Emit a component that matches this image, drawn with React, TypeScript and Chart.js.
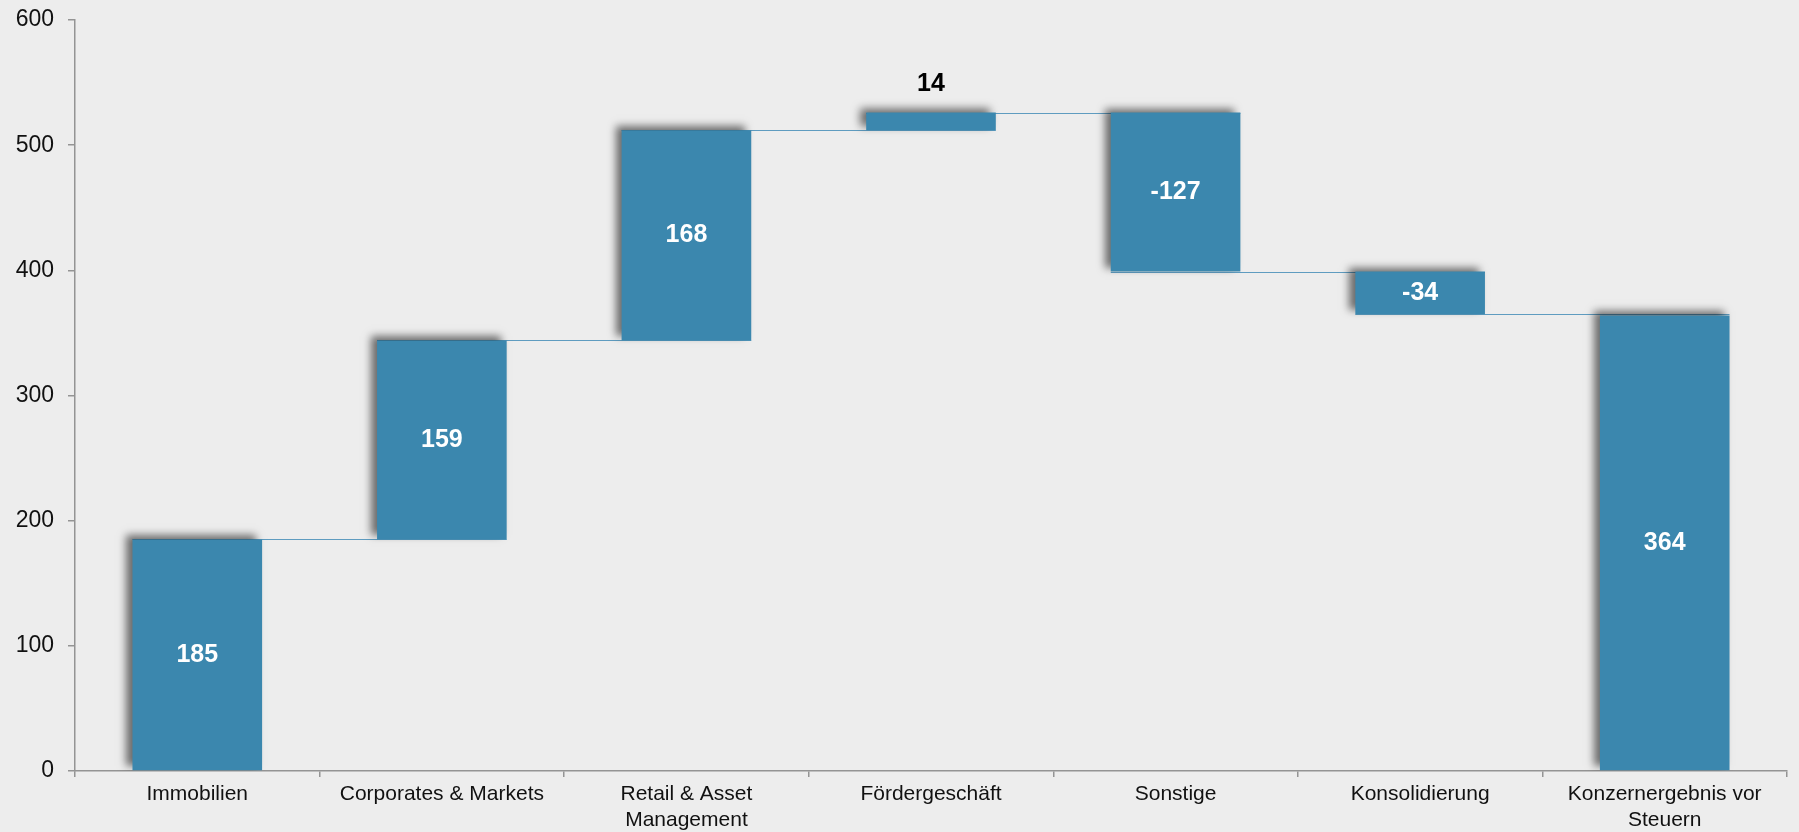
import React, { useEffect, useRef } from "react";
import { Chart, registerables } from "chart.js";

Chart.register(...registerables);

const categories: (string | string[])[] = [
  "Immobilien",
  "Corporates & Markets",
  ["Retail & Asset", "Management"],
  "Fördergeschäft",
  "Sonstige",
  "Konsolidierung",
  ["Konzernergebnis vor", "Steuern"],
];
const values = [185, 159, 168, 14, -127, -34, 364];
const isTotal = [false, false, false, false, false, false, true];
const labelInside = [true, true, true, false, true, true, true];
const yTicks = [0, 100, 200, 300, 400, 500, 600];

const BAR = "#3b87ae";
const LINE = "#5f9cc0";
const AXIS = "#949494";
const FONT = "'Liberation Sans', Arial, sans-serif";

function buildRanges(): [number, number][] {
  let run = 0;
  return values.map((v, i) => {
    if (isTotal[i]) return [0, v] as [number, number];
    const r: [number, number] = [run, run + v];
    run += v;
    return r;
  });
}

export default function App() {
  const ref = useRef<HTMLCanvasElement | null>(null);
  useEffect(() => {
    if (!ref.current) return;
    const ranges = buildRanges();

    const connectors = {
      id: "connectors",
      beforeDatasetsDraw(chart: any) {
        const meta = chart.getDatasetMeta(0);
        const y = chart.scales.y;
        const ctx = chart.ctx;
        ctx.save();
        ctx.strokeStyle = LINE;
        ctx.lineWidth = 1;
        for (let i = 0; i < ranges.length - 1; i++) {
          const a = meta.data[i] as any;
          const b = meta.data[i + 1] as any;
          const py = Math.round(y.getPixelForValue(ranges[i][1])) + 0.5;
          ctx.beginPath();
          ctx.moveTo(a.x - a.width / 2, py);
          ctx.lineTo(b.x + b.width / 2, py);
          ctx.stroke();
        }
        ctx.restore();
      },
    };

    const shadow = {
      id: "barShadow",
      beforeDatasetDraw(chart: any) {
        const ctx = chart.ctx;
        ctx.save();
        ctx.shadowColor = "rgba(0,0,0,0.55)";
        ctx.shadowBlur = 8;
        ctx.shadowOffsetX = -6;
        ctx.shadowOffsetY = -4;
      },
      afterDatasetDraw(chart: any) {
        chart.ctx.restore();
      },
    };

    const dataLabels = {
      id: "dataLabels",
      afterDatasetsDraw(chart: any) {
        const meta = chart.getDatasetMeta(0);
        const ctx = chart.ctx;
        ctx.save();
        ctx.font = `bold 25px ${FONT}`;
        ctx.textAlign = "center";
        ctx.textBaseline = "middle";
        meta.data.forEach((el: any, i: number) => {
          const top = Math.min(el.y, el.base);
          const bot = Math.max(el.y, el.base);
          if (labelInside[i]) {
            ctx.fillStyle = "#ffffff";
            ctx.fillText(String(values[i]), el.x, (top + bot) / 2);
          } else {
            ctx.fillStyle = "#000000";
            ctx.fillText(String(values[i]), el.x, top - 29);
          }
        });
        ctx.restore();
      },
    };

    const chart = new Chart(ref.current, {
      type: "bar",
      data: {
        labels: categories as any,
        datasets: [
          {
            data: ranges as any,
            backgroundColor: BAR,
            borderWidth: 0,
            borderSkipped: false,
            barPercentage: 0.53,
            categoryPercentage: 1.0,
          },
        ],
      },
      options: {
        animation: false,
        responsive: true,
        maintainAspectRatio: false,
        layout: { padding: { top: 20, right: 12, left: 0, bottom: 0 } },
        plugins: {
          legend: { display: false },
          tooltip: { enabled: false },
        },
        scales: {
          x: {
            grid: {
              drawOnChartArea: false,
              drawTicks: true,
              tickLength: 6,
              offset: true,
              color: AXIS,
              lineWidth: 1.5,
            },
            border: { display: true, color: AXIS, width: 1.5 },
            ticks: {
              color: "#111111",
              font: { family: FONT, size: 21 },
              padding: 5,
              maxRotation: 0,
              autoSkip: false,
            },
            afterFit(scale: any) {
              scale.height = 61;
            },
          },
          y: {
            min: 0,
            max: 600,
            afterBuildTicks(scale: any) {
              scale.ticks = yTicks.map((v) => ({ value: v }));
            },
            grid: {
              drawOnChartArea: false,
              drawTicks: true,
              tickLength: 7,
              color: AXIS,
              lineWidth: 1.5,
            },
            border: { display: true, color: AXIS, width: 1.5 },
            ticks: {
              color: "#111111",
              font: { family: FONT, size: 23 },
              padding: 14,
            },
            afterFit(scale: any) {
              scale.width = 75;
              scale.paddingTop = 0;
              scale.paddingBottom = 0;
            },
          },
        },
      },
      plugins: [connectors, shadow, dataLabels],
    });
    return () => chart.destroy();
  }, []);

  return (
    <div
      style={{
        position: "absolute",
        left: 0,
        top: 0,
        width: 1799,
        height: 832,
        background: "#ededed",
      }}
    >
      <canvas ref={ref} />
    </div>
  );
}
